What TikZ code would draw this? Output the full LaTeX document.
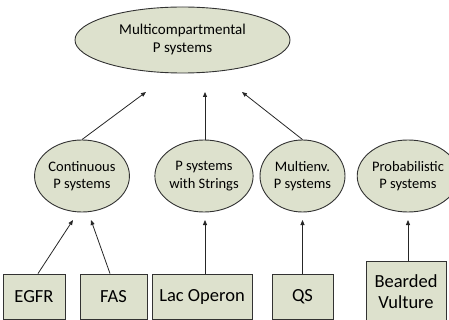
\documentclass[tikz,border=0pt]{standalone}
\usepackage{fontspec}
\setmainfont{Carlito}
\usetikzlibrary{shapes.geometric,arrows.meta}
\definecolor{fillc}{RGB}{221,225,205}
\definecolor{linec}{RGB}{50,50,50}
\tikzset{
  ell/.style={ellipse,draw=linec,line width=0.9pt,fill=fillc,inner sep=0pt,align=center,font=\fontsize{14.5}{17.5}\selectfont},
  boxn/.style={rectangle,draw=linec,line width=0.9pt,fill=fillc,inner sep=0pt,align=center,font=\fontsize{18.5}{21}\selectfont,minimum height=45pt},
  arr/.style={draw=black!85,line width=0.8pt,-{Triangle[length=5pt,width=4pt]}}
}
\begin{document}
\begin{tikzpicture}[x=1pt,y=-1pt]
\useasboundingbox (0,0) rectangle (449,320);
\node[ell,minimum width=215pt,minimum height=66pt,font=\fontsize{15}{18}\selectfont] (top) at (182.5,40) {Multicompartmental\\P systems};
\node[ell,minimum width=86pt,minimum height=72pt] (cont) at (82,176) {Continuous\\P systems};
\node[ell,minimum width=82pt,minimum height=72pt] (str) at (204,176) {P systems\\with Strings};
\node[ell,minimum width=85pt,minimum height=72pt] (multi) at (302.5,176) {Multienv.\\P systems};
\node[ell,minimum width=80pt,minimum height=72pt] (prob) at (408,176) {Probabilistic\\P systems};
\node[boxn,minimum width=62pt] (egfr) at (34,296.5) {EGFR};
\node[boxn,minimum width=67pt] (fas) at (113.5,296.5) {FAS};
\node[boxn,minimum width=100pt] (lac) at (202,296.5) {Lac Operon};
\node[boxn,minimum width=61pt] (qs) at (302.5,296.5) {QS};
\node[boxn,minimum width=80pt,minimum height=72pt] (bv) at (406,297) {Bearded\\Vulture\rule[-10pt]{0pt}{10pt}};
% arrow tips (free ends)
\coordinate (t1) at (146,92);
\coordinate (t2) at (205,92);
\coordinate (t3) at (242,92);
\coordinate (c1) at (73,220);
\coordinate (c2) at (91,220);
\coordinate (s1) at (205,220);
\coordinate (m1) at (302.5,220);
\coordinate (p1) at (408,220);
\draw[arr] (cont.north) -- (t1);
\draw[arr] (str.north -| t2) -- (t2);
\draw[arr] (multi.north) -- (t3);
\draw[arr] ([xshift=4pt]egfr.north) -- (c1);
\draw[arr] ([xshift=-3.5pt]fas.north) -- (c2);
\draw[arr] (lac.north -| s1) -- (s1);
\draw[arr] (qs.north) -- (m1);
\draw[arr] (bv.north -| p1) -- (p1);
\end{tikzpicture}
\end{document}
